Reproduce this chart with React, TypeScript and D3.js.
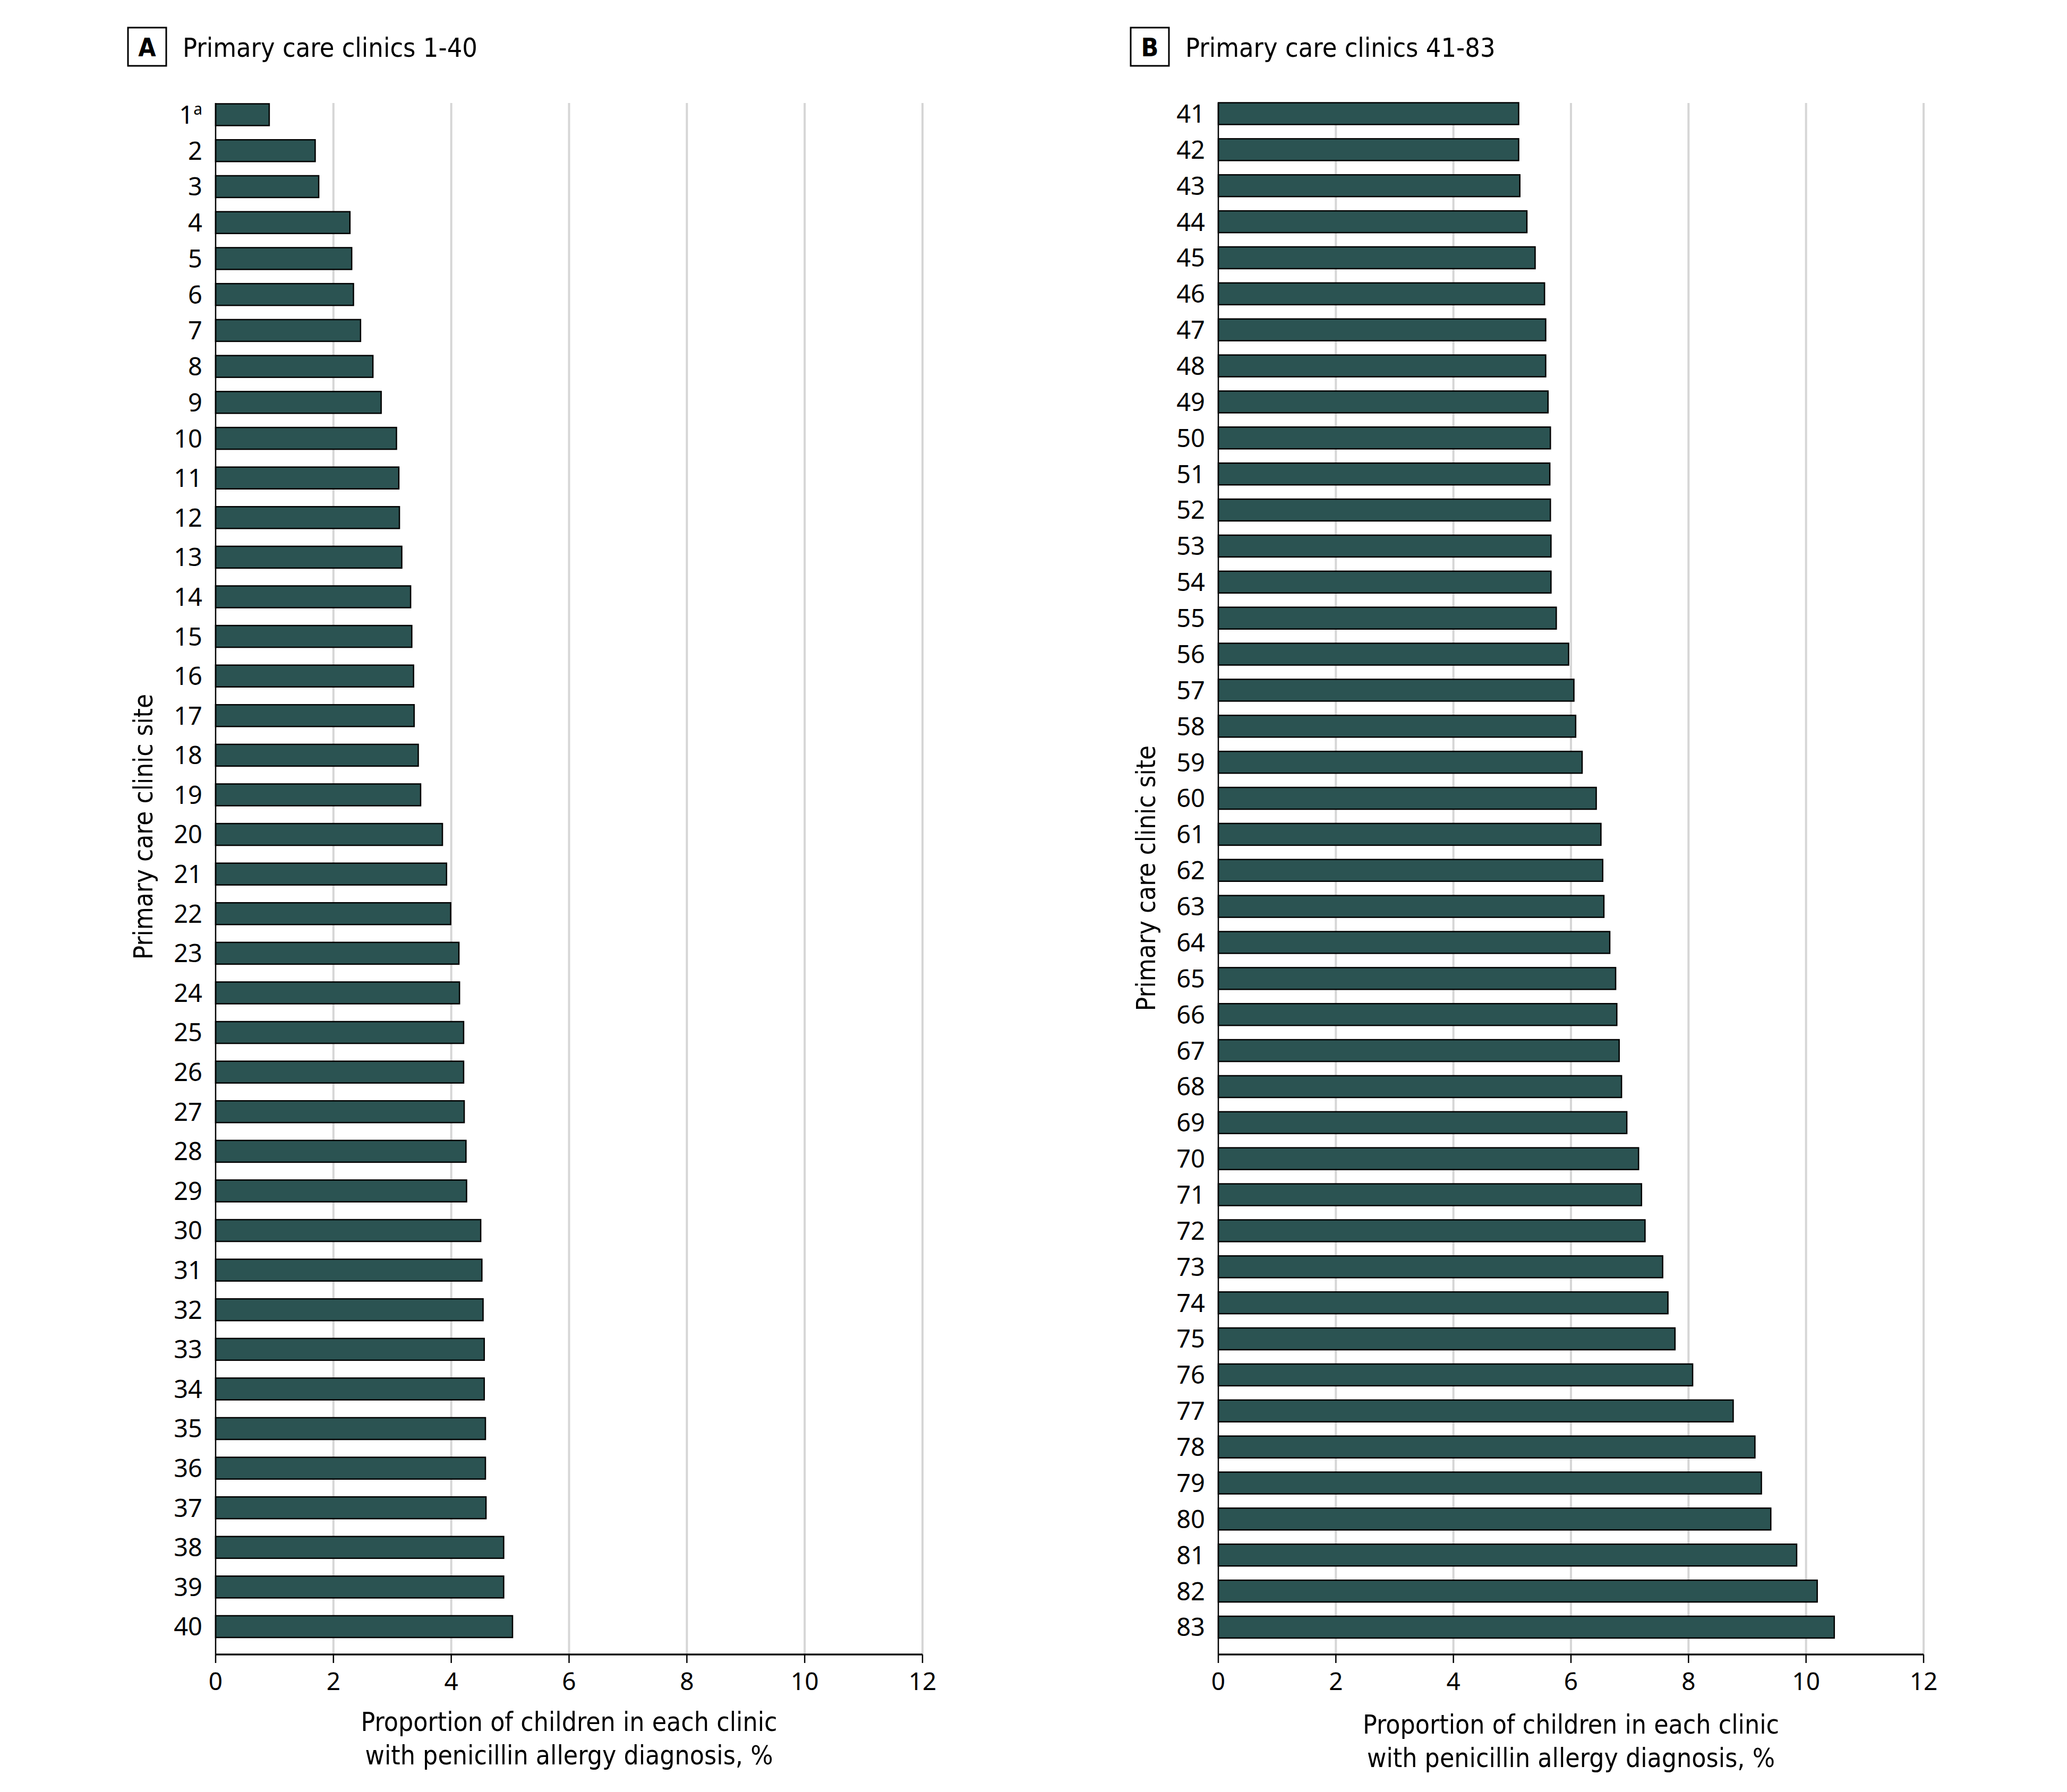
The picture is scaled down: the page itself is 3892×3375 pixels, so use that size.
import * as d3 from 'd3'

// clinic ids (categories) and the proportion, %
const clinicsA = d3.range(1, 41)
const rateA = [
  0.91, 1.69, 1.75, 2.28, 2.31, 2.34, 2.46, 2.67, 2.81, 3.07,
  3.11, 3.12, 3.16, 3.31, 3.33, 3.36, 3.37, 3.44, 3.48, 3.85,
  3.92, 3.99, 4.13, 4.14, 4.21, 4.21, 4.22, 4.25, 4.26, 4.5,
  4.52, 4.54, 4.56, 4.56, 4.58, 4.58, 4.59, 4.89, 4.89, 5.04,
]
const clinicsB = d3.range(41, 84)
const rateB = [
  5.11, 5.11, 5.13, 5.25, 5.39, 5.55, 5.57, 5.57, 5.61, 5.65,
  5.64, 5.65, 5.66, 5.66, 5.75, 5.96, 6.05, 6.08, 6.19, 6.43,
  6.51, 6.54, 6.56, 6.66, 6.76, 6.78, 6.82, 6.86, 6.95, 7.15,
  7.2, 7.26, 7.56, 7.65, 7.77, 8.07, 8.76, 9.13, 9.24, 9.4,
  9.84, 10.19, 10.48,
]
const xTicks = [0, 2, 4, 6, 8, 10, 12]
const footnoteClinic = 1 // clinic 1 carries the "a" footnote mark
const xTitle = ['Proportion of children in each clinic', 'with penicillin allergy diagnosis, %']
const yTitle = 'Primary care clinic site'

const W = 3892
const H = 3375
const BAR_FILL = '#2b5352'
const GRID = '#d6d6d6'
const NARROW = '"Liberation Sans Narrow", "DejaVu Sans Condensed", "Roboto Condensed", sans-serif'
const NUM = '"Noto Sans", "Open Sans", sans-serif'

// layout for each panel (pixel positions only)
const panels = [
  {
    letter: 'A',
    title: 'Primary care clinics 1-40',
    clinics: clinicsA,
    rates: rateA,
    left: 406,
    right: 1737,
    // the left panel's rows are tighter for clinics 1-10 than for 11-40
    yDomain: [1, 10, 40],
    yRange: [216, 825.6, 3063.5],
    yTitleY: 1557,
    xTitleY: 3260,
  },
  {
    letter: 'B',
    title: 'Primary care clinics 41-83',
    clinics: clinicsB,
    rates: rateB,
    left: 2294,
    right: 3622,
    yDomain: [41, 83],
    yRange: [214, 3064.5],
    yTitleY: 1654,
    xTitleY: 3265,
  },
]

function Panel({ p }) {
  const x = d3.scaleLinear().domain([0, 12]).range([p.left, p.right])
  const y = d3.scaleLinear().domain(p.yDomain).range(p.yRange)
  const top = 194
  const base = 3116
  const barH = 41
  const mid = (p.left + p.right) / 2

  return (
    <g>
      {/* panel letter + title */}
      <rect x={p.left - 165} y={52} width={72} height={72} fill="#fff" stroke="#000" strokeWidth={3} />
      <text x={p.left - 129} y={106} textAnchor="middle" fontFamily={NARROW} fontWeight="bold" fontSize={48}>
        {p.letter}
      </text>
      <text x={p.left - 62} y={107} fontFamily={NARROW} fontSize={50}>
        {p.title}
      </text>

      {/* grid */}
      {xTicks.filter((t) => t > 0).map((t) => (
        <line key={t} x1={x(t)} x2={x(t)} y1={top} y2={base} stroke={GRID} strokeWidth={4} />
      ))}

      {/* bars */}
      {p.clinics.map((c, i) => (
        <rect
          key={c}
          x={x(0)}
          y={y(c) - barH / 2}
          width={x(p.rates[i]) - x(0)}
          height={barH}
          fill={BAR_FILL}
          stroke="#000"
          strokeWidth={2.5}
        />
      ))}

      {/* y axis */}
      <line x1={x(0)} x2={x(0)} y1={top} y2={base} stroke="#000" strokeWidth={2.5} />
      {p.clinics.map((c) => (
        <text key={c} x={p.left - 25} y={y(c)} dy="0.36em" textAnchor="end" fontFamily={NUM} fontSize={47}>
          {c}
          {c === footnoteClinic && (
            <tspan fontSize={30} dy={-17}>a</tspan>
          )}
        </text>
      ))}
      <text
        transform={`translate(${p.left - 119},${p.yTitleY}) rotate(-90)`}
        textAnchor="middle"
        fontFamily={NARROW}
        fontSize={49}
      >
        {yTitle}
      </text>

      {/* x axis */}
      <line x1={x(0)} x2={x(12)} y1={base} y2={base} stroke="#111" strokeWidth={3.5} />
      {xTicks.map((t) => (
        <g key={t}>
          <line x1={x(t)} x2={x(t)} y1={base} y2={base + 16} stroke="#000" strokeWidth={2.5} />
          <text x={x(t)} y={3183} textAnchor="middle" fontFamily={NUM} fontSize={46}>
            {t}
          </text>
        </g>
      ))}
      {xTitle.map((line, i) => (
        <text key={i} x={mid} y={p.xTitleY + i * 63} textAnchor="middle" fontFamily={NARROW} fontSize={49.5}>
          {line}
        </text>
      ))}
    </g>
  )
}

export default function App() {
  return (
    <svg
      width={W}
      height={H}
      viewBox={`0 0 ${W} ${H}`}
      style={{ position: 'absolute', left: 0, top: 0, background: '#fff' }}
    >
      <rect width={W} height={H} fill="#fff" />
      {panels.map((p) => (
        <Panel key={p.letter} p={p} />
      ))}
    </svg>
  )
}
